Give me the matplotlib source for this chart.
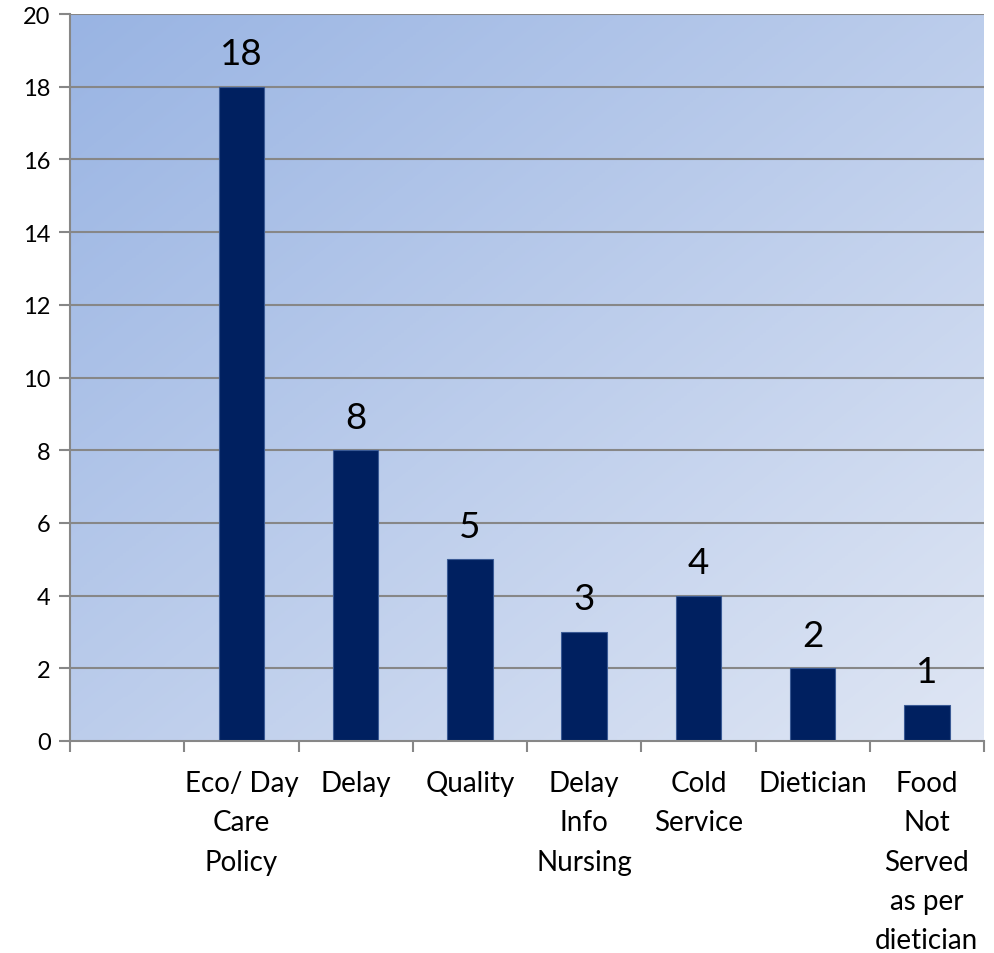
import numpy as np
import matplotlib
matplotlib.use("Agg")
import matplotlib.pyplot as plt
from matplotlib.colors import LinearSegmentedColormap

plt.rcParams['font.family'] = ['Lato', 'DejaVu Sans']

categories = ["", "Eco/ Day\nCare\nPolicy", "Delay", "Quality", "Delay\nInfo\nNursing",
              "Cold\nService", "Dietician", "Food\nNot\nServed\nas per\ndietician"]
values = [None, 18, 8, 5, 3, 4, 2, 1]
y_ticks = [0, 2, 4, 6, 8, 10, 12, 14, 16, 18, 20]

fig = plt.figure(figsize=(9.94, 9.54), dpi=100)
ax = fig.add_axes([70 / 994, 1 - 742 / 954, 914 / 994, 727 / 954])

n = len(categories)

# diagonal gradient fill behind the plot: darker at the top left
cmap = LinearSegmentedColormap.from_list("bg", ["#99b4e3", "#dfe6f4"])
gx, gy = np.meshgrid(np.linspace(0, 1, 300), np.linspace(0, 1, 300))
grad = (gx + gy) / 2.0
ax.imshow(grad, cmap=cmap, extent=[-0.5, n - 0.5, 0, 20], origin='upper',
          aspect='auto', zorder=0, interpolation='bilinear')
ax.set_xlim(-0.5, n - 0.5)
ax.set_ylim(0, 20)

for t in y_ticks[1:]:
    ax.axhline(t, color="#878787", lw=1.5, zorder=1)

xs = [i for i, v in enumerate(values) if v is not None]
hs = [v for v in values if v is not None]
ax.bar(xs, hs, width=0.4, color="#002060", edgecolor="#3a5a95", linewidth=0.8, zorder=2)
for x, h in zip(xs, hs):
    ax.annotate(str(h), (x, h), xytext=(0, 12), textcoords='offset points',
                ha='center', va='bottom', fontsize=26.5, color='black', zorder=3)

ax.set_yticks(y_ticks)
ax.set_yticklabels([str(t) for t in y_ticks], fontsize=17)
ax.set_xticks(range(n))
ax.set_xticklabels(categories, fontsize=20, linespacing=1.63, ha='center', va='top')
ax.set_xticks(np.arange(-0.5, n, 1.0), minor=True)

ax.tick_params(axis='x', which='major', length=0, pad=21)
ax.tick_params(axis='x', which='minor', length=8, width=1.5, color="#878787", direction='out')
ax.tick_params(axis='y', length=8, width=1.5, color="#878787", direction='out', pad=6)

for s in ['top', 'right']:
    ax.spines[s].set_visible(False)
for s in ['left', 'bottom']:
    ax.spines[s].set_color("#878787")
    ax.spines[s].set_linewidth(1.5)

fig.savefig("out.png", dpi=100)
